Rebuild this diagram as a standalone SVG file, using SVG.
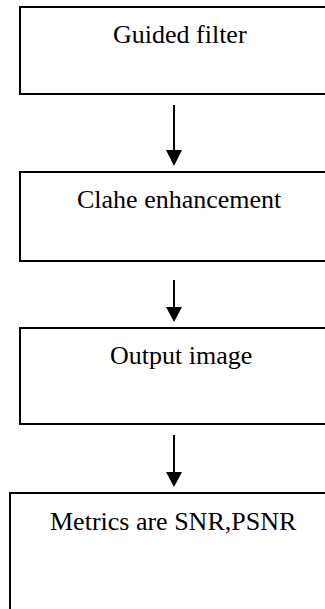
<svg xmlns="http://www.w3.org/2000/svg" width="325" height="609" viewBox="0 0 325 609">
<defs>
<style>
.box{fill:#fff;stroke:#000;stroke-width:2}
.lbl{font-family:"Liberation Serif","Times New Roman",serif;font-size:26px;fill:#000}
.conn{stroke:#000;stroke-width:2;fill:none}
</style>
<marker id="ah" viewBox="0 0 16 16" refX="8" refY="16" markerWidth="16" markerHeight="16" markerUnits="userSpaceOnUse" orient="auto-start-reverse">
<path d="M0,0 L16,0 L8,16 Z" fill="#000"/>
</marker>
</defs>
<rect width="325" height="609" fill="#fff"/>
<g id="node-guided">
<rect class="box" x="20" y="7" width="320" height="87"/>
<text class="lbl" x="113" y="43">Guided filter</text>
</g>
<g id="node-clahe">
<rect class="box" x="20" y="172" width="320" height="89"/>
<text class="lbl" x="77" y="208">Clahe enhancement</text>
</g>
<g id="node-output">
<rect class="box" x="20" y="328" width="320" height="96"/>
<text class="lbl" x="110" y="364">Output image</text>
</g>
<g id="node-metrics">
<rect class="box" x="10" y="493" width="330" height="130"/>
<text class="lbl" x="50" y="530">Metrics are SNR,PSNR</text>
</g>
<g id="connectors">
<line class="conn" x1="174" y1="105" x2="174" y2="152"/>
<path d="M166,150 L182,150 L174,166 Z" fill="#000"/>
<line class="conn" x1="174" y1="280" x2="174" y2="309"/>
<path d="M166,307 L182,307 L174,322 Z" fill="#000"/>
<line class="conn" x1="174" y1="435" x2="174" y2="474"/>
<path d="M166,472 L182,472 L174,487 Z" fill="#000"/>
</g>
</svg>
